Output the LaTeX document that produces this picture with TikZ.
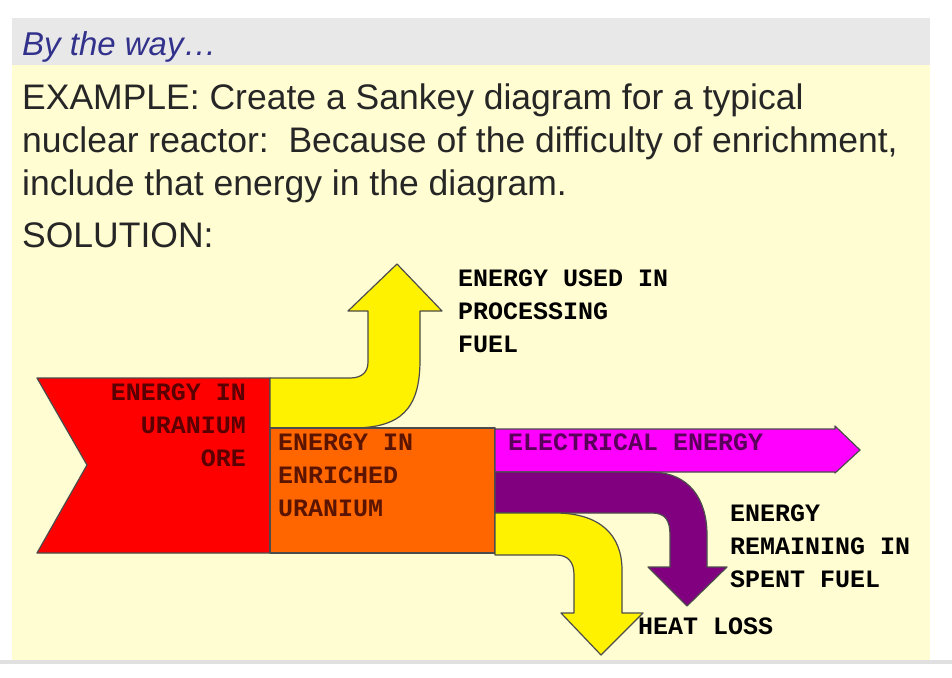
\documentclass[tikz,border=0pt]{standalone}
\usepackage{fontspec}
\setmainfont{Liberation Sans}
\newfontfamily\cour{Liberation Mono}
\begin{document}
\begin{tikzpicture}[x=1pt,y=-1pt,
  hdr/.style={anchor=base west,inner sep=0pt,font=\fontsize{35.5}{40}\selectfont,text=black!85},
  lab/.style={anchor=base west,inner sep=0pt,font=\cour\bfseries\fontsize{25}{33}\selectfont,align=left},
  band/.style={draw=black!70,line width=1.2pt,line join=round}]
\useasboundingbox (0,0) rectangle (952,677);
\fill[white] (0,0) rectangle (952,677);
\fill[black!9] (12,18) rectangle (930,65);
\fill[yellow!18] (12,65) rectangle (930,660);
\fill[black!12] (0,660) rectangle (952,664);
\node[hdr,font=\itshape\fontsize{33}{38}\selectfont,text={rgb,255:red,50;green,50;blue,140}] (bw) at (22,56) {By the way\ldots};
\node[hdr] (l1) at (22,109) {EXAMPLE: Create a Sankey diagram for a typical};
\node[hdr] (l2) at (22,152) {nuclear reactor:\ \ Because of the difficulty of enrichment,};
\node[hdr] (l3) at (22,195) {include that energy in the diagram.};
\node[hdr] (l4) at (22,247) {SOLUTION:};
% red input
\draw[band,fill=red] (37,378) -- (270,378) -- (270,553) -- (37,553) -- (87,465) -- cycle;
% yellow up
\draw[band,fill=yellow] (270,428) -- (352,428) .. controls (400,428) and (420,410) .. (420,360) -- (420,311) -- (442,311) -- (397,264) -- (348,311) -- (368,311) -- (368,362) .. controls (368,372) and (362,378) .. (350,378) -- (270,378) -- cycle;
% orange
\draw[band,fill={rgb,255:red,255;green,102;blue,0}] (270,428) rectangle (495,553);
% magenta
\draw[band,fill={rgb,255:red,255;green,0;blue,255}] (495,429) -- (835,429) -- (835,426) -- (860,450) -- (835,473) -- (835,472) -- (495,472) -- cycle;
% purple
\draw[band,fill={rgb,255:red,128;green,0;blue,128}] (495,472) -- (650,472) .. controls (690,472) and (707,500) .. (707,535) -- (707,567) -- (727,567) -- (687,606) -- (648,567) -- (670,567) -- (670,535) .. controls (670,520) and (665,513) .. (652,513) -- (495,513) -- cycle;
% yellow down
\draw[band,fill=yellow] (495,513) -- (555,513) .. controls (600,513) and (622,535) .. (622,570) -- (622,613) -- (643,613) -- (601,655) -- (561,613) -- (574,613) -- (574,575) .. controls (574,562) and (568,555) .. (556,555) -- (495,555) -- cycle;
% labels
\node[lab,align=right,anchor=north east,text={rgb,255:red,90;green,0;blue,0}] (ore) at (246,384) {ENERGY IN\\URANIUM\\ORE};
\node[lab,anchor=north west,text={rgb,255:red,90;green,20;blue,0}] (enr) at (278,434) {ENERGY IN\\ENRICHED\\URANIUM};
\node[lab,anchor=north west,text={rgb,255:red,90;green,0;blue,90}] (el) at (508,434) {ELECTRICAL ENERGY};
\node[lab,anchor=north west] (proc) at (458,270) {ENERGY USED IN\\PROCESSING\\FUEL};
\node[lab,anchor=north west] (spent) at (730,505) {ENERGY\\REMAINING IN\\SPENT FUEL};
\node[lab,anchor=north west] (heat) at (638,618) {HEAT LOSS};
\end{tikzpicture}
\end{document}
